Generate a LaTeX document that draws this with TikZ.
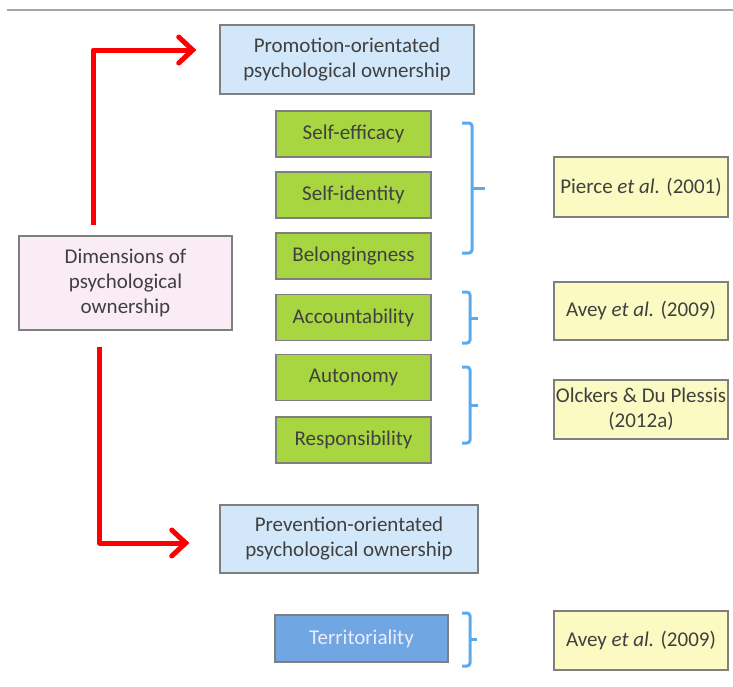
\documentclass[tikz,border=0pt]{standalone}
\usepackage{fontspec}
\setmainfont{Carlito}
\usetikzlibrary{arrows.meta}
\definecolor{txtgray}{HTML}{404040}
\definecolor{boxline}{HTML}{7F7F7F}
\definecolor{orientblue}{HTML}{D2E8FA}
\definecolor{traitgreen}{HTML}{A8D640}
\definecolor{dimpink}{HTML}{FAECF4}
\definecolor{srcyellow}{HTML}{FAFAC2}
\definecolor{terrblue}{HTML}{70A6E2}
\definecolor{bracecol}{HTML}{5AAAF0}
\tikzset{
	box/.style={draw=boxline, line width=1.2pt, inner sep=0pt, align=center,
		text=txtgray, font=\fontsize{21}{25}\selectfont},
	orientbox/.style={box, fill=orientblue},
	traitbox/.style={box, fill=traitgreen, minimum width=155pt, minimum height=46pt},
	dimbox/.style={box, fill=dimpink},
	srcbox/.style={box, fill=srcyellow, minimum width=174pt},
	terrbox/.style={box, fill=terrblue, text=white!92!blue},
	redarrow/.style={draw=red, line width=5pt, line join=round,
		-{Straight Barb[length=14pt,width=26pt,line cap=round]}},
	grpbrace/.style={draw=bracecol, line width=3pt, rounded corners=3pt}
}
\begin{document}
\begin{tikzpicture}[x=1pt, y=-1pt]
		\useasboundingbox ( 0, 0 ) rectangle ( 733, 686 );
		% линия сверху
		\draw [gray!70, line width=1.5pt] ( 7, 10 ) -- ( 733, 10 );

		% измерения
		\node [dimbox, minimum width=213pt, minimum height=94pt] (dim) at ( 125.5, 283 ) {Dimensions of\\psychological\\ownership};
		\node [orientbox, minimum width=254pt, minimum height=69pt] (promo) at ( 347, 59.5 ) {Promotion-orientated\\psychological ownership};
		\node [orientbox, minimum width=258pt, minimum height=68pt] (prev) at ( 349, 539 ) {Prevention-orientated\\psychological ownership};

		% признаки
		\node [traitbox] (eff) at ( 353.5, 134 ) {Self-efficacy};
		\node [traitbox] (ident) at ( 353.5, 195 ) {Self-identity};
		\node [traitbox] (belong) at ( 353.5, 256 ) {Belongingness};
		\node [traitbox] (account) at ( 353.5, 317.5 ) {Accountability};
		\node [traitbox] (auton) at ( 353.5, 377.5 ) {Autonomy};
		\node [traitbox] (resp) at ( 353.5, 440 ) {Responsibility};
		\node [terrbox, minimum width=173pt, minimum height=47pt] (terr) at ( 361.5, 638.5 ) {Territoriality};

		% источники
		\node [srcbox, minimum height=60pt] (pierce) at ( 641, 187 ) {Pierce \textit{et al.} (2001)};
		\node [srcbox, minimum height=58pt] (avey) at ( 641, 311 ) {Avey \textit{et al.} (2009)};
		\node [srcbox, minimum height=59pt] (olckers) at ( 641, 409.5 ) {Olckers \& Du Plessis\\(2012a)};
		\node [srcbox, minimum height=59pt] (aveyb) at ( 641, 640.5 ) {Avey \textit{et al.} (2009)};

		% скобки
		\draw [grpbrace] ( 462, 123 ) -- ( 472, 123 ) -- ( 472, 253 ) -- ( 462, 253 );
		\draw [grpbrace] ( 472, 188 ) -- ( 485, 188 );
		\draw [grpbrace] ( 462, 292 ) -- ( 470, 292 ) -- ( 470, 343 ) -- ( 462, 343 );
		\draw [grpbrace] ( 470, 318 ) -- ( 478, 318 );
		\draw [grpbrace] ( 462, 367 ) -- ( 470, 367 ) -- ( 470, 443 ) -- ( 462, 443 );
		\draw [grpbrace] ( 470, 405 ) -- ( 478, 405 );
		\draw [grpbrace] ( 462, 613 ) -- ( 470, 613 ) -- ( 470, 666 ) -- ( 462, 666 );
		\draw [grpbrace] ( 470, 639 ) -- ( 477, 639 );

		% стрелки
		\draw [redarrow] ([xshift=-32.5pt, yshift=10pt]dim.north) |- ([xshift=-23pt, yshift=9.5pt]promo.west);
		\draw [redarrow] ([xshift=-26pt, yshift=-16pt]dim.south) |- ([xshift=-30pt, yshift=-4pt]prev.west);
\end{tikzpicture}
\end{document}
